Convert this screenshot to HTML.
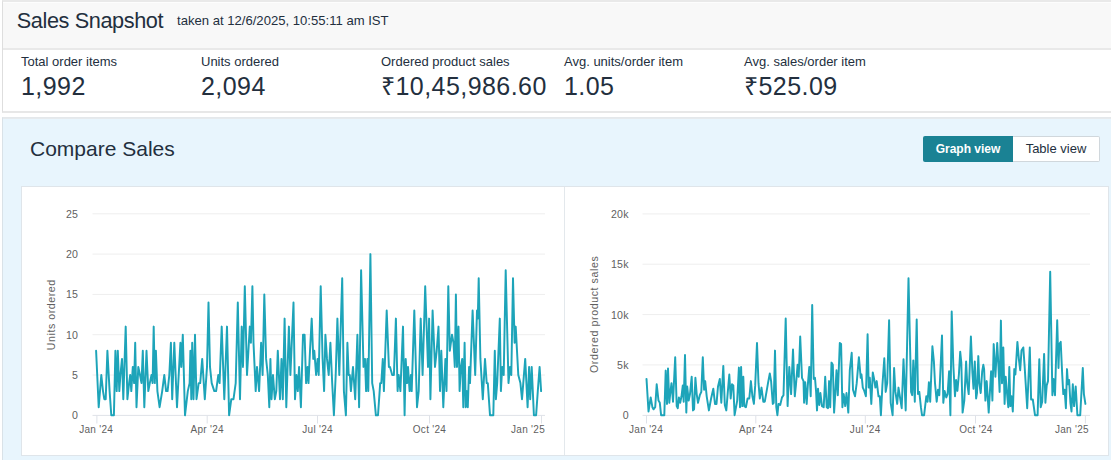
<!DOCTYPE html>
<html><head><meta charset="utf-8">
<style>
*{box-sizing:border-box;margin:0;padding:0}
html,body{width:1111px;height:460px;overflow:hidden;background:#fff;font-family:"Liberation Sans",sans-serif;color:#232f3e}
.abs{position:absolute}
#top{position:absolute;left:2px;top:0;width:1120px;height:113px;border:1px solid #dedede;border-top:2px solid #e9e9e9;border-bottom:2px solid #e7e7e7;background:#fff}
#hdr{position:absolute;left:0;top:0;width:100%;height:48px;background:#f8f8f8;border-top:1px solid #fdfdfd;border-bottom:2px solid #e9e9e9}
#title{position:absolute;left:13.8px;top:5px;font-size:21.7px;letter-spacing:-0.4px;color:#232f3e;white-space:nowrap}
#taken{position:absolute;left:174px;top:9.5px;font-size:13.1px;color:#232f3e;white-space:nowrap}
.m{position:absolute;top:52px;white-space:nowrap}
.m .l{font-size:13px;color:#232f3e;line-height:16px}
.m .v{font-size:25px;color:#232f3e;line-height:30px;margin-top:1px;letter-spacing:0.45px}
#cmp{position:absolute;left:2px;top:117px;width:1120px;height:360px;border:1px solid #d9e2e8;border-top-color:#e4e8eb;box-shadow:inset 0 1px 0 #e6eaed;background:#e8f5fd}
#ctitle{position:absolute;left:27px;top:19px;font-size:21px;color:#232f3e;white-space:nowrap}
#bg{position:absolute;left:920px;top:18px;height:26px;width:90px;background:#1a8294;color:#fff;font-size:12px;font-weight:bold;text-align:center;line-height:27px;border-radius:2px 0 0 2px}
#bt{position:absolute;left:1010px;top:18px;height:26px;width:87px;background:#fff;color:#232f3e;font-size:13px;text-align:center;line-height:24px;border:1px solid #d0d7dc;border-left:none;border-radius:0 2px 2px 0}
#card{position:absolute;left:18px;top:68px;width:1088px;height:270px;background:#fff;border:1px solid #dfe5ea}
#div{position:absolute;left:542px;top:0;width:1px;height:100%;background:#e3e8ec}
svg{position:absolute;left:0;top:0}
.ax{font-family:"Liberation Sans",sans-serif;font-size:10px;fill:#5f5f5f;letter-spacing:0.3px}
.ay{font-size:10.6px}
.at{font-size:10.6px;letter-spacing:0}
</style></head><body>
<div id="top">
 <div id="hdr"><div id="title">Sales Snapshot</div><div id="taken">taken at 12/6/2025, 10:55:11 am IST</div></div>
 <div class="m" style="left:18px"><div class="l">Total order items</div><div class="v">1,992</div></div>
 <div class="m" style="left:198px"><div class="l">Units ordered</div><div class="v">2,094</div></div>
 <div class="m" style="left:378px"><div class="l">Ordered product sales</div><div class="v">₹10,45,986.60</div></div>
 <div class="m" style="left:561px"><div class="l">Avg. units/order item</div><div class="v">1.05</div></div>
 <div class="m" style="left:741px"><div class="l">Avg. sales/order item</div><div class="v">₹525.09</div></div>
</div>
<div id="cmp">
 <div id="ctitle">Compare Sales</div>
 <div id="bg">Graph view</div><div id="bt">Table view</div>
 <div id="card"><div id="div"></div></div>
</div>
<svg id="charts" width="1111" height="460" viewBox="0 0 1111 460">
<line x1="92.5" x2="545" y1="375.0" y2="375.0" stroke="#eeeeee" stroke-width="1"/>
<line x1="92.5" x2="545" y1="334.7" y2="334.7" stroke="#eeeeee" stroke-width="1"/>
<line x1="92.5" x2="545" y1="294.4" y2="294.4" stroke="#eeeeee" stroke-width="1"/>
<line x1="92.5" x2="545" y1="254.1" y2="254.1" stroke="#eeeeee" stroke-width="1"/>
<line x1="92.5" x2="545" y1="213.8" y2="213.8" stroke="#eeeeee" stroke-width="1"/>
<line x1="92.5" x2="545" y1="415.4" y2="415.4" stroke="#dfe2e8" stroke-width="1"/>
<line x1="642.5" x2="1090" y1="364.9" y2="364.9" stroke="#eeeeee" stroke-width="1"/>
<line x1="642.5" x2="1090" y1="314.6" y2="314.6" stroke="#eeeeee" stroke-width="1"/>
<line x1="642.5" x2="1090" y1="264.2" y2="264.2" stroke="#eeeeee" stroke-width="1"/>
<line x1="642.5" x2="1090" y1="213.9" y2="213.9" stroke="#eeeeee" stroke-width="1"/>
<line x1="642.5" x2="1090" y1="415.4" y2="415.4" stroke="#dfe2e8" stroke-width="1"/>
<line x1="96.9" x2="96.9" y1="415.4" y2="423.5" stroke="#dfe2e8" stroke-width="1"/>
<line x1="207.2" x2="207.2" y1="415.4" y2="423.5" stroke="#dfe2e8" stroke-width="1"/>
<line x1="317.5" x2="317.5" y1="415.4" y2="423.5" stroke="#dfe2e8" stroke-width="1"/>
<line x1="429.5" x2="429.5" y1="415.4" y2="423.5" stroke="#dfe2e8" stroke-width="1"/>
<line x1="541.5" x2="541.5" y1="415.4" y2="423.5" stroke="#dfe2e8" stroke-width="1"/>
<line x1="646.5" x2="646.5" y1="415.4" y2="423.5" stroke="#dfe2e8" stroke-width="1"/>
<line x1="755.8" x2="755.8" y1="415.4" y2="423.5" stroke="#dfe2e8" stroke-width="1"/>
<line x1="865.3" x2="865.3" y1="415.4" y2="423.5" stroke="#dfe2e8" stroke-width="1"/>
<line x1="975.5" x2="975.5" y1="415.4" y2="423.5" stroke="#dfe2e8" stroke-width="1"/>
<line x1="1085.4" x2="1085.4" y1="415.4" y2="423.5" stroke="#dfe2e8" stroke-width="1"/>
<text x="78.3" y="419.2" text-anchor="end" class="ax ay">0</text>
<text x="78.3" y="378.9" text-anchor="end" class="ax ay">5</text>
<text x="78.3" y="338.6" text-anchor="end" class="ax ay">10</text>
<text x="78.3" y="298.3" text-anchor="end" class="ax ay">15</text>
<text x="78.3" y="258.0" text-anchor="end" class="ax ay">20</text>
<text x="78.3" y="217.7" text-anchor="end" class="ax ay">25</text>
<text x="628.9" y="419.2" text-anchor="end" class="ax ay">0</text>
<text x="628.9" y="368.8" text-anchor="end" class="ax ay">5k</text>
<text x="628.9" y="318.5" text-anchor="end" class="ax ay">10k</text>
<text x="628.9" y="268.1" text-anchor="end" class="ax ay">15k</text>
<text x="628.9" y="217.8" text-anchor="end" class="ax ay">20k</text>
<text x="96.2" y="432.5" text-anchor="middle" class="ax">Jan '24</text>
<text x="207.2" y="432.5" text-anchor="middle" class="ax">Apr '24</text>
<text x="317.6" y="432.5" text-anchor="middle" class="ax">Jul '24</text>
<text x="429.5" y="432.5" text-anchor="middle" class="ax">Oct '24</text>
<text x="528.0" y="432.5" text-anchor="middle" class="ax">Jan '25</text>
<text x="646.1" y="432.5" text-anchor="middle" class="ax">Jan '24</text>
<text x="755.8" y="432.5" text-anchor="middle" class="ax">Apr '24</text>
<text x="865.2" y="432.5" text-anchor="middle" class="ax">Jul '24</text>
<text x="975.9" y="432.5" text-anchor="middle" class="ax">Oct '24</text>
<text x="1071.9" y="432.5" text-anchor="middle" class="ax">Jan '25</text>
<text transform="translate(55.2,350.2) rotate(-90)" textLength="70.4" lengthAdjust="spacing" class="ax at">Units ordered</text>
<text transform="translate(598.4,373) rotate(-90)" textLength="116.7" lengthAdjust="spacing" class="ax at">Ordered product sales</text>
<polyline fill="none" stroke="#1da4b9" stroke-width="1.95" stroke-linejoin="round" stroke-linecap="round" points="96.1,350.8 98.7,407.2 101.3,375.0 103.0,391.1 104.3,399.2 105.7,399.2 107.4,350.8 109.6,391.1 111.3,415.3 113.9,415.3 115.4,350.8 116.7,391.1 117.8,350.8 119.3,391.1 120.4,375.0 122.0,358.9 123.3,399.2 125.7,326.6 127.4,399.2 129.1,383.1 130.2,375.0 131.3,391.1 132.8,366.9 134.1,383.1 135.2,342.8 136.5,407.2 138.3,366.9 140.0,375.0 141.5,383.1 142.8,350.8 144.3,407.2 146.5,350.8 148.3,391.1 149.8,383.1 151.5,375.0 152.6,383.1 153.7,326.6 154.8,383.1 155.9,350.8 157.4,391.1 159.6,407.2 162.2,391.1 164.3,375.0 166.1,391.1 167.6,391.1 169.3,375.0 170.9,342.8 172.2,399.2 174.3,342.8 177.0,407.2 180.4,342.8 181.3,366.9 182.8,334.7 185.0,415.3 187.8,391.1 189.6,383.1 190.4,350.8 191.3,399.2 192.2,342.8 193.5,399.2 195.0,334.7 196.5,399.2 198.7,383.1 200.2,383.1 202.2,358.9 204.8,399.2 207.0,366.9 208.5,302.5 210.0,366.9 211.7,383.1 214.3,391.1 216.1,391.1 218.3,375.0 219.6,383.1 221.7,326.6 224.3,399.2 227.0,326.6 229.1,415.3 231.3,399.2 233.5,399.2 235.7,383.1 237.8,302.5 240.0,399.2 241.7,326.6 243.0,366.9 244.8,286.3 247.0,375.0 249.8,326.6 250.9,342.8 252.4,286.3 253.5,342.8 255.7,391.1 257.0,366.9 259.1,391.1 261.1,342.8 262.6,375.0 264.3,294.4 266.1,358.9 267.8,375.0 269.3,407.2 270.4,358.9 271.5,399.2 273.0,375.0 274.8,399.2 276.3,391.1 277.8,350.8 280.0,399.2 281.5,358.9 282.8,399.2 284.6,318.6 286.3,407.2 288.9,326.6 290.4,375.0 293.5,302.5 295.0,399.2 296.5,375.0 297.8,391.1 299.1,366.9 300.9,407.2 303.0,334.7 304.6,334.7 306.1,383.1 307.6,366.9 308.5,383.1 310.0,350.8 311.7,318.6 313.3,358.9 314.3,350.8 316.1,375.0 317.6,358.9 318.7,375.0 320.7,286.3 322.6,358.9 324.1,391.1 325.4,334.7 327.0,358.9 328.7,375.0 330.4,342.8 332.2,383.1 333.9,415.3 335.7,375.0 337.4,318.6 339.3,375.0 342.2,278.3 343.9,391.1 345.9,415.3 347.4,342.8 348.7,375.0 349.8,375.0 350.9,391.1 353.0,366.9 355.2,399.2 357.4,334.7 359.1,407.2 361.1,270.2 363.5,366.9 365.0,358.9 366.1,391.1 367.4,358.9 368.3,391.1 370.4,254.1 372.2,383.1 373.7,391.1 375.9,415.3 378.0,415.3 380.2,383.1 381.3,383.1 382.8,358.9 383.9,391.1 386.7,310.5 388.9,366.9 390.0,366.9 392.2,375.0 393.9,375.0 395.9,318.6 397.6,391.1 398.7,375.0 400.4,391.1 403.0,326.6 404.6,415.3 405.7,358.9 407.0,383.1 408.0,366.9 409.6,391.1 410.9,375.0 411.7,391.1 414.3,310.5 417.0,407.2 418.7,391.1 420.7,318.6 422.6,375.0 425.2,286.3 428.0,366.9 429.1,318.6 430.4,399.2 432.6,310.5 435.0,366.9 436.7,350.8 438.5,326.6 440.0,391.1 441.3,350.8 443.3,407.2 445.4,358.9 446.5,391.1 448.3,286.3 449.8,350.8 452.0,334.7 453.5,342.8 454.8,366.9 455.9,294.4 457.0,366.9 458.5,326.6 459.6,391.1 460.9,366.9 462.2,358.9 463.3,407.2 464.6,342.8 465.7,407.2 467.0,391.1 467.8,407.2 469.1,366.9 470.0,383.1 472.6,310.5 475.2,375.0 477.0,310.5 477.8,318.6 478.7,278.3 480.4,358.9 482.8,399.2 485.0,358.9 486.7,383.1 487.8,383.1 490.0,415.3 493.3,415.3 494.8,350.8 495.9,399.2 497.2,383.1 499.8,318.6 500.9,391.1 502.2,366.9 503.7,375.0 505.7,270.2 508.5,383.1 510.0,366.9 511.3,375.0 513.0,278.3 514.6,342.8 515.7,326.6 518.3,375.0 520.4,383.1 522.0,399.2 525.2,358.9 527.6,407.2 529.1,366.9 530.2,399.2 531.7,366.9 533.9,415.3 536.1,415.3 537.8,391.1 539.6,366.9 541.1,391.1"/>
<polyline fill="none" stroke="#1da4b9" stroke-width="1.95" stroke-linejoin="round" stroke-linecap="round" points="646.5,378.9 648.5,411.5 650.7,397.4 652.4,407.2 653.5,409.3 655.2,407.2 656.7,384.3 658.5,400.6 659.8,402.8 661.1,415.2 664.3,415.2 665.7,370.6 667.0,403.9 668.0,368.5 669.3,402.8 670.4,391.9 671.5,383.2 673.0,401.7 675.2,357.2 676.7,406.1 677.8,408.2 678.9,397.4 680.2,402.8 681.5,396.3 682.8,385.4 683.7,401.7 685.0,355.0 686.3,412.6 687.2,386.5 688.7,400.6 690.0,394.1 691.7,376.7 693.0,410.4 694.1,409.3 695.4,377.8 696.7,394.1 698.0,402.8 699.8,395.2 701.3,391.9 702.8,357.2 704.1,389.8 705.2,381.1 706.7,396.3 708.9,410.4 711.1,398.5 713.3,388.7 715.0,403.9 716.5,403.9 718.0,386.5 719.8,378.9 721.3,402.8 723.3,365.9 724.8,405.0 726.3,410.4 727.8,391.9 729.3,374.5 730.7,398.5 732.0,384.3 733.3,385.4 734.6,415.2 737.2,400.6 738.9,367.6 740.0,407.2 741.1,366.9 742.2,406.1 743.3,376.7 744.3,406.1 745.9,407.2 747.6,398.5 749.3,398.5 750.9,381.1 752.4,396.3 753.9,403.9 755.2,385.4 757.0,343.0 758.5,383.2 759.8,398.5 761.5,387.6 763.3,401.7 764.8,401.7 766.5,391.9 768.0,383.2 769.8,373.5 771.1,381.1 772.8,403.9 773.7,402.8 775.0,350.6 776.3,407.2 777.4,415.2 778.5,403.9 780.2,405.0 782.0,397.4 783.5,395.2 785.7,318.5 787.6,406.1 789.3,366.9 791.1,394.1 793.0,349.5 794.8,396.3 795.9,385.4 797.6,364.8 798.7,376.7 800.2,336.5 802.0,377.8 803.5,381.1 804.1,402.8 805.2,382.2 806.7,403.9 807.8,385.4 809.3,366.9 810.7,396.3 812.2,305.0 813.7,378.9 815.0,377.8 816.1,391.9 817.0,410.4 818.0,388.7 819.3,405.0 820.4,393.0 822.0,406.1 823.7,407.2 825.2,376.7 826.7,407.2 828.0,408.2 829.1,381.1 830.2,407.2 831.5,362.6 832.8,364.8 834.1,412.6 835.4,391.9 836.5,370.2 837.8,395.2 839.8,343.0 841.1,344.1 842.4,407.2 843.7,394.1 845.2,406.1 846.5,393.0 848.3,412.6 849.8,370.2 851.7,352.8 853.0,389.8 855.0,396.3 856.7,383.2 858.9,357.2 860.7,377.8 861.5,374.5 862.8,387.6 864.3,390.9 865.9,396.3 867.6,334.3 868.7,387.6 869.8,377.8 871.3,403.9 872.8,372.4 874.1,378.9 875.4,387.6 876.7,381.1 878.5,396.3 879.8,396.3 880.9,415.2 882.4,385.4 884.3,358.2 885.7,391.9 887.2,383.2 889.1,320.2 890.7,402.8 892.6,415.2 894.1,368.0 895.4,391.9 897.2,403.9 898.5,387.6 900.2,398.5 901.7,408.2 903.5,359.3 905.7,410.4 908.5,278.2 911.1,391.9 912.2,395.2 913.3,360.4 914.8,401.7 916.7,319.5 918.0,394.1 919.3,391.9 920.9,407.2 922.0,415.2 924.1,415.2 926.3,396.3 927.6,401.7 928.9,382.2 930.2,401.7 932.4,346.3 933.9,361.5 935.0,383.2 936.7,401.7 938.0,389.8 939.3,395.2 942.0,335.4 943.3,402.8 944.6,390.9 946.3,397.4 947.6,394.1 949.1,371.3 950.4,415.2 951.7,311.5 953.3,364.8 955.0,396.3 956.1,380.0 957.4,390.9 958.9,374.5 960.2,351.7 961.3,362.6 962.6,412.6 964.3,400.6 966.1,361.5 967.2,383.2 968.7,394.1 970.9,336.5 972.4,372.4 973.5,388.7 974.8,361.5 976.1,398.5 977.0,393.0 978.3,356.1 979.3,383.2 980.7,393.0 982.2,371.3 983.3,364.8 984.1,369.1 985.4,400.6 986.7,381.1 988.7,412.6 991.1,371.3 992.4,400.6 993.7,344.1 995.4,376.7 997.2,343.0 998.5,366.9 999.6,391.9 1000.9,320.6 1002.0,383.2 1003.3,347.4 1004.6,403.9 1005.7,376.7 1006.7,389.8 1008.3,407.2 1009.3,366.9 1010.4,406.1 1011.5,396.3 1012.8,411.5 1014.3,369.1 1015.4,374.5 1017.4,341.9 1018.9,359.3 1020.2,370.2 1021.5,350.6 1023.3,347.4 1024.6,365.9 1027.2,408.2 1029.8,347.4 1031.1,399.5 1032.8,399.5 1035.0,415.2 1037.6,415.2 1039.3,359.3 1040.7,407.2 1042.2,401.7 1044.1,353.9 1045.4,402.8 1046.7,385.4 1048.0,381.1 1050.2,271.7 1052.4,395.2 1053.5,378.9 1055.0,395.2 1057.2,320.2 1058.5,368.0 1059.3,344.1 1060.7,341.9 1062.2,374.5 1063.3,394.1 1064.6,389.8 1065.9,408.2 1067.0,369.1 1068.0,384.3 1069.1,380.0 1070.4,402.8 1071.5,411.5 1072.8,384.3 1074.1,406.1 1075.7,386.5 1077.4,415.2 1080.2,415.2 1082.8,368.0 1083.9,394.1 1085.4,403.9"/>
</svg>
</body></html>
